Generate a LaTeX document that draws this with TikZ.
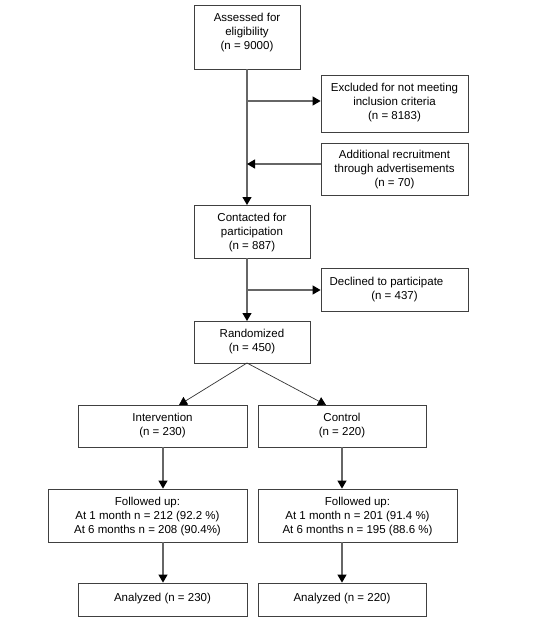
\documentclass[tikz,border=0pt]{standalone}
\usepackage{fontspec}
\setmainfont{Liberation Sans}
\usetikzlibrary{arrows.meta}
\begin{document}
\begin{tikzpicture}[x=1pt,y=-1pt,
  box/.style={draw=black!75,line width=0.8pt,rectangle,inner sep=0pt},
  txt/.style={align=center,font=\fontsize{11.5}{14}\selectfont,inner sep=0pt,yshift=-2pt},
  flow/.style={draw=black!60,line width=1.2pt,-{Triangle[width=9pt,length=8pt,fill=black,color=black]}},
  split/.style={draw=black!80,line width=0.7pt,-{Triangle[width=9pt,length=8pt,fill=black,color=black]}}]
\useasboundingbox (0,0) rectangle (541,640);
\fill[white] (0,0) rectangle (541,640);
% boxes
\node[box,minimum width=106pt,minimum height=64pt] (A) at (247,37) {};
\node[txt] at (247,31) {Assessed for\\eligibility\\(n = 9000)};
\node[box,minimum width=147pt,minimum height=57pt] (E) at (394.5,103.5) {};
\node[txt] at (394.5,101) {Excluded for not meeting\\inclusion criteria\\(n = 8183)};
\node[box,minimum width=147pt,minimum height=52pt] (R) at (394.5,169) {};
\node[txt] at (394.5,168) {Additional recruitment\\through advertisements\\(n = 70)};
\node[box,minimum width=116pt,minimum height=53pt] (C) at (252,231.5) {};
\node[txt] at (252,231) {Contacted for\\participation\\(n = 887)};
\node[box,minimum width=147pt,minimum height=43pt] (D) at (394.5,289.5) {};
\node[txt] at (394.5,288) {Declined to participate\hspace*{16pt}\\(n = 437)};
\node[box,minimum width=116pt,minimum height=42pt] (Rd) at (252,342) {};
\node[txt] at (252,340) {Randomized\\(n = 450)};
\node[box,minimum width=169pt,minimum height=42pt] (I) at (162.5,426) {};
\node[txt] at (162.5,424) {Intervention\\(n = 230)};
\node[box,minimum width=168pt,minimum height=42pt] (K) at (342,426) {};
\node[txt] at (342,424) {Control\\(n = 220)};
\node[box,minimum width=199pt,minimum height=53pt] (FI) at (147.5,515.5) {};
\node[txt] at (147.5,515) {Followed up:\\At 1 month n = 212 (92.2 \%)\\At 6 months n = 208 (90.4\%)};
\node[box,minimum width=199pt,minimum height=53pt] (FK) at (357.5,515.5) {};
\node[txt] at (357.5,515) {Followed up:\\At 1 month n = 201 (91.4 \%)\\At 6 months n = 195 (88.6 \%)};
\node[box,minimum width=169pt,minimum height=33pt] (AI) at (162.5,599.5) {};
\node[txt] at (162.5,596.5) {Analyzed (n = 230)};
\node[box,minimum width=168pt,minimum height=33pt] (AK) at (342,599.5) {};
\node[txt] at (342,596.5) {Analyzed (n = 220)};
% coordinates
\coordinate (m1) at (247,101);
\coordinate (m2) at (247,164);
\coordinate (r2) at (321,164);
\coordinate (cTop) at (247,205);
\coordinate (cBot) at (247,258);
\coordinate (m3) at (247,290);
\coordinate (rTop) at (247,321);
\coordinate (rBot) at (247,363);
\coordinate (iTop) at (179,405);
\coordinate (kTop) at (326,405);
\coordinate (iB) at (163,447);
\coordinate (kB) at (342,447);
\coordinate (fiB) at (163,542);
\coordinate (fkB) at (342,542);
% connectors
\draw[flow] (A.south) -- (cTop);
\draw[flow] (m1) -- (m1 -| E.west);
\draw[flow] (r2) -- (m2);
\draw[flow] (cBot) -- (rTop);
\draw[flow] (m3) -- (m3 -| D.west);
\draw[split] (rBot) -- (iTop);
\draw[split] (rBot) -- (kTop);
\draw[flow] (iB) -- (iB |- FI.north);
\draw[flow] (kB) -- (kB |- FK.north);
\draw[flow] (fiB) -- (fiB |- AI.north);
\draw[flow] (fkB) -- (fkB |- AK.north);
\end{tikzpicture}
\end{document}
